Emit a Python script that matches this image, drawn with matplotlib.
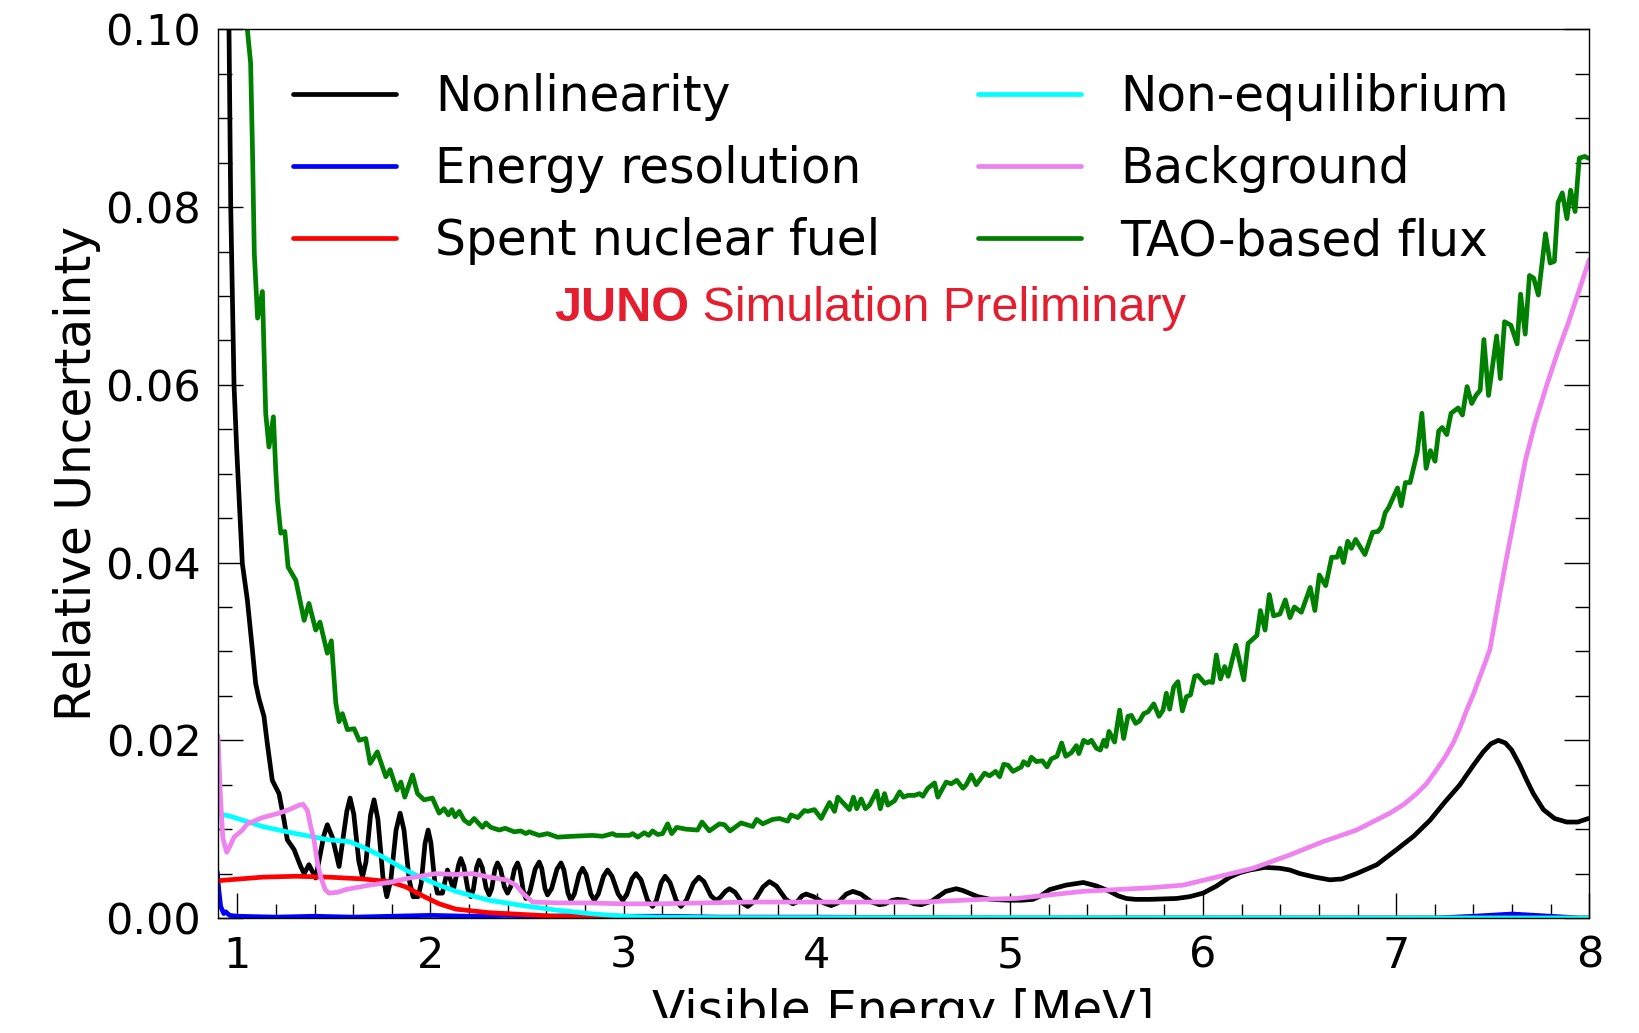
import matplotlib
matplotlib.use("Agg")
import matplotlib.pyplot as plt
from matplotlib.patches import Rectangle
from matplotlib.ticker import MultipleLocator, FormatStrFormatter

# ---- series: (visible energy [MeV], relative uncertainty) ----
nonlinearity = [
    (0.950, 0.1080), (0.957, 0.1000), (0.966, 0.0800), (0.983, 0.0600), (0.997, 0.0527),
    (1.014, 0.0452), (1.026, 0.0399), (1.052, 0.0358), (1.078, 0.0302), (1.095, 0.0264),
    (1.112, 0.0247), (1.138, 0.0227), (1.155, 0.0197), (1.181, 0.0155), (1.216, 0.0140),
    (1.242, 0.0110), (1.259, 0.0088), (1.294, 0.0077), (1.328, 0.0058), (1.346, 0.0050),
    (1.371, 0.0060), (1.406, 0.0045), (1.448, 0.0093), (1.466, 0.0105), (1.492, 0.0091),
    (1.527, 0.0058), (1.567, 0.0120), (1.584, 0.0135), (1.603, 0.0117), (1.629, 0.0064),
    (1.648, 0.0046), (1.666, 0.0063), (1.690, 0.0116), (1.708, 0.0133), (1.728, 0.0111),
    (1.754, 0.0046), (1.774, 0.0024), (1.795, 0.0043), (1.822, 0.0099), (1.843, 0.0118),
    (1.863, 0.0099), (1.890, 0.0043), (1.910, 0.0024), (1.936, 0.0024), (1.952, 0.0039),
    (1.972, 0.0084), (1.988, 0.0099), (2.002, 0.0085), (2.022, 0.0042), (2.036, 0.0028),
    (2.062, 0.0028), (2.088, 0.0054), (2.119, 0.0032), (2.146, 0.0060), (2.157, 0.0067),
    (2.173, 0.0058), (2.193, 0.0033), (2.209, 0.0024), (2.222, 0.0032), (2.239, 0.0057),
    (2.252, 0.0065), (2.268, 0.0057), (2.288, 0.0034), (2.304, 0.0026), (2.317, 0.0033),
    (2.334, 0.0055), (2.347, 0.0062), (2.363, 0.0055), (2.383, 0.0035), (2.399, 0.0028),
    (2.415, 0.0035), (2.435, 0.0055), (2.451, 0.0062), (2.464, 0.0054), (2.481, 0.0030),
    (2.494, 0.0022), (2.515, 0.0030), (2.542, 0.0055), (2.563, 0.0063), (2.576, 0.0056),
    (2.593, 0.0033), (2.606, 0.0026), (2.627, 0.0033), (2.655, 0.0055), (2.676, 0.0062),
    (2.691, 0.0054), (2.712, 0.0028), (2.727, 0.0020), (2.745, 0.0027), (2.770, 0.0049),
    (2.788, 0.0056), (2.806, 0.0049), (2.830, 0.0027), (2.848, 0.0020), (2.869, 0.0027),
    (2.896, 0.0047), (2.917, 0.0054), (2.940, 0.0047), (2.972, 0.0027), (2.995, 0.0020),
    (3.016, 0.0026), (3.043, 0.0044), (3.064, 0.0050), (3.090, 0.0043), (3.124, 0.0020),
    (3.150, 0.0013), (3.170, 0.0020), (3.195, 0.0040), (3.215, 0.0047), (3.240, 0.0040),
    (3.272, 0.0020), (3.297, 0.0013), (3.325, 0.0020), (3.361, 0.0039), (3.389, 0.0046),
    (3.416, 0.0041), (3.452, 0.0025), (3.479, 0.0020), (3.500, 0.0023), (3.527, 0.0030),
    (3.548, 0.0033), (3.577, 0.0029), (3.614, 0.0017), (3.643, 0.0013), (3.677, 0.0019),
    (3.722, 0.0035), (3.755, 0.0041), (3.791, 0.0036), (3.840, 0.0021), (3.876, 0.0016),
    (3.897, 0.0018), (3.924, 0.0025), (3.945, 0.0027), (3.984, 0.0024), (4.036, 0.0017),
    (4.075, 0.0014), (4.109, 0.0017), (4.153, 0.0027), (4.187, 0.0030), (4.228, 0.0027),
    (4.284, 0.0018), (4.325, 0.0015), (4.354, 0.0016), (4.391, 0.0020), (4.420, 0.0021),
    (4.456, 0.0020), (4.505, 0.0016), (4.541, 0.0015), (4.595, 0.0019), (4.668, 0.0030),
    (4.722, 0.0033), (4.756, 0.0031), (4.834, 0.0024), (4.900, 0.0021), (4.998, 0.0020),
    (5.060, 0.0020), (5.119, 0.0021), (5.160, 0.0025), (5.206, 0.0032), (5.290, 0.0037),
    (5.380, 0.0040), (5.450, 0.0036), (5.517, 0.0030), (5.560, 0.0025), (5.603, 0.0022),
    (5.650, 0.0021), (5.724, 0.0021), (5.862, 0.0022), (5.930, 0.0024), (6.000, 0.0028),
    (6.070, 0.0036), (6.138, 0.0046), (6.190, 0.0051), (6.242, 0.0054), (6.320, 0.0057),
    (6.397, 0.0056), (6.450, 0.0054), (6.501, 0.0050), (6.580, 0.0046), (6.656, 0.0043),
    (6.720, 0.0044), (6.795, 0.0050), (6.900, 0.0060), (7.002, 0.0077), (7.090, 0.0092),
    (7.175, 0.0110), (7.250, 0.0130), (7.330, 0.0150), (7.400, 0.0172), (7.451, 0.0187),
    (7.490, 0.0196), (7.529, 0.0200), (7.565, 0.0197), (7.598, 0.0189), (7.640, 0.0172),
    (7.676, 0.0155), (7.710, 0.0140), (7.762, 0.0122), (7.820, 0.0112), (7.883, 0.0108),
    (7.940, 0.0108), (7.995, 0.0112),
]

energy_resolution = [
    (0.896, 0.0052), (0.905, 0.0030), (0.914, 0.0013), (0.930, 0.0005), (0.940, 0.0007),
    (0.960, 0.0003), (1.000, 0.0002), (1.200, 0.0001), (1.400, 0.0002), (1.600, 0.0001),
    (1.800, 0.0002), (2.000, 0.0003), (2.200, 0.0002), (2.400, 0.0003), (2.600, 0.0002),
    (2.800, 0.0003), (3.000, 0.0002), (3.200, 0.0002), (3.500, 0.0001), (4.000, 0.0001),
    (5.000, 0.0000), (7.200, 0.0000), (7.400, 0.0002), (7.600, 0.00045), (7.800, 0.0002),
    (7.950, 0.0000), (8.000, 0.0000),
]

spent_fuel = [
    (0.900, 0.0042), (0.957, 0.0043), (1.130, 0.0046), (1.302, 0.0047), (1.475, 0.0046),
    (1.648, 0.0044), (1.786, 0.0041), (1.873, 0.0035), (1.959, 0.0025), (2.045, 0.0016),
    (2.132, 0.0010), (2.218, 0.0008), (2.304, 0.0006), (2.477, 0.0004), (2.650, 0.0002),
    (2.910, 0.0001), (3.200, 0.0000), (8.000, 0.0000),
]

non_equilibrium = [
    (0.900, 0.0117), (0.957, 0.0115), (1.130, 0.0103), (1.302, 0.0095), (1.475, 0.0088),
    (1.579, 0.0086), (1.648, 0.0080), (1.734, 0.0071), (1.800, 0.0063), (1.880, 0.0053),
    (1.959, 0.0045), (2.045, 0.0037), (2.132, 0.0030), (2.304, 0.0020), (2.477, 0.0014),
    (2.650, 0.0009), (2.822, 0.0005), (2.995, 0.0002), (3.170, 0.0001), (3.500, 0.00005),
    (8.000, 0.0000),
]

background = [
    (0.900, 0.0205), (0.912, 0.0140), (0.925, 0.0090), (0.945, 0.0074), (0.960, 0.0080),
    (0.983, 0.0091), (1.026, 0.0099), (1.052, 0.0106), (1.130, 0.0113), (1.216, 0.0118),
    (1.268, 0.0122), (1.320, 0.0127), (1.340, 0.0128), (1.363, 0.0121), (1.380, 0.0103),
    (1.397, 0.0088), (1.415, 0.0062), (1.432, 0.0046), (1.455, 0.0032), (1.475, 0.0028),
    (1.520, 0.0029), (1.562, 0.0032), (1.682, 0.0037), (1.786, 0.0040), (1.890, 0.0045),
    (2.028, 0.0050), (2.132, 0.0049), (2.218, 0.0050), (2.304, 0.0046), (2.391, 0.0043),
    (2.443, 0.0037), (2.477, 0.0028), (2.529, 0.0018), (2.650, 0.0017), (2.822, 0.0017),
    (2.995, 0.0016), (3.170, 0.0016), (3.651, 0.0018), (3.997, 0.0018), (4.342, 0.0018),
    (4.550, 0.0018), (4.860, 0.0021), (5.033, 0.0022), (5.206, 0.0026), (5.378, 0.0030),
    (5.551, 0.0032), (5.724, 0.0034), (5.896, 0.0037), (6.069, 0.0046), (6.259, 0.0056),
    (6.449, 0.0071), (6.622, 0.0086), (6.795, 0.0099), (6.967, 0.0118), (7.040, 0.0128),
    (7.106, 0.0140), (7.160, 0.0152), (7.209, 0.0167), (7.250, 0.0180), (7.295, 0.0197),
    (7.330, 0.0214), (7.365, 0.0234), (7.400, 0.0252), (7.434, 0.0272), (7.460, 0.0287),
    (7.485, 0.0302), (7.520, 0.0345), (7.565, 0.0398), (7.620, 0.0460), (7.670, 0.0516),
    (7.720, 0.0558), (7.780, 0.0600), (7.835, 0.0636), (7.890, 0.0669), (7.945, 0.0705),
    (8.000, 0.0741),
]

tao_flux = [
    (1.045, 0.1060), (1.052, 0.1000), (1.069, 0.0962), (1.079, 0.0860), (1.088, 0.0748),
    (1.105, 0.0675), (1.130, 0.0705), (1.147, 0.0568), (1.164, 0.0530), (1.187, 0.0564),
    (1.199, 0.0504), (1.208, 0.0470), (1.225, 0.0433), (1.246, 0.0435), (1.263, 0.0395),
    (1.303, 0.0380), (1.346, 0.0335), (1.371, 0.0354), (1.406, 0.0324), (1.428, 0.0333),
    (1.466, 0.0298), (1.487, 0.0312), (1.510, 0.0242), (1.527, 0.0221), (1.544, 0.0230),
    (1.570, 0.0212), (1.605, 0.0213), (1.631, 0.0200), (1.665, 0.0202), (1.688, 0.0174),
    (1.725, 0.0187), (1.769, 0.0159), (1.791, 0.0167), (1.826, 0.0144), (1.847, 0.0153),
    (1.867, 0.0136), (1.907, 0.0161), (1.933, 0.0140), (1.967, 0.0133), (2.010, 0.0135),
    (2.045, 0.0118), (2.071, 0.0123), (2.093, 0.0116), (2.111, 0.0122), (2.128, 0.0114),
    (2.149, 0.0120), (2.175, 0.0110), (2.201, 0.0106), (2.226, 0.0112), (2.269, 0.0102),
    (2.287, 0.0107), (2.313, 0.0102), (2.356, 0.0099), (2.387, 0.0101), (2.434, 0.0097),
    (2.468, 0.0098), (2.494, 0.0095), (2.511, 0.0097), (2.563, 0.0093), (2.606, 0.0095),
    (2.658, 0.0091), (2.736, 0.0092), (2.839, 0.0093), (2.891, 0.0092), (2.943, 0.0095),
    (2.961, 0.0093), (3.030, 0.0093), (3.047, 0.0095), (3.073, 0.0091), (3.107, 0.0096),
    (3.130, 0.0093), (3.150, 0.0098), (3.176, 0.0094), (3.202, 0.0095), (3.228, 0.0106),
    (3.249, 0.0095), (3.275, 0.0102), (3.323, 0.0100), (3.383, 0.0099), (3.406, 0.0108),
    (3.444, 0.0098), (3.496, 0.0106), (3.522, 0.0105), (3.551, 0.0098), (3.608, 0.0107),
    (3.668, 0.0103), (3.689, 0.0111), (3.720, 0.0106), (3.772, 0.0111), (3.807, 0.0112),
    (3.850, 0.0109), (3.867, 0.0116), (3.902, 0.0113), (3.936, 0.0121), (3.953, 0.0120),
    (3.988, 0.0122), (4.023, 0.0112), (4.066, 0.0130), (4.092, 0.0120), (4.109, 0.0136),
    (4.169, 0.0122), (4.190, 0.0136), (4.207, 0.0123), (4.230, 0.0134), (4.252, 0.0123),
    (4.273, 0.0127), (4.311, 0.0143), (4.329, 0.0123), (4.351, 0.0140), (4.368, 0.0127),
    (4.403, 0.0132), (4.429, 0.0142), (4.449, 0.0136), (4.472, 0.0138), (4.506, 0.0138),
    (4.532, 0.0140), (4.549, 0.0137), (4.575, 0.0146), (4.610, 0.0152), (4.627, 0.0136),
    (4.670, 0.0153), (4.696, 0.0151), (4.725, 0.0155), (4.757, 0.0146), (4.774, 0.0150),
    (4.800, 0.0161), (4.826, 0.0150), (4.869, 0.0163), (4.895, 0.0160), (4.926, 0.0165),
    (4.947, 0.0159), (4.968, 0.0173), (4.990, 0.0172), (5.016, 0.0165), (5.059, 0.0170),
    (5.071, 0.0176), (5.094, 0.0172), (5.111, 0.0181), (5.137, 0.0176), (5.168, 0.0177),
    (5.192, 0.0170), (5.214, 0.0179), (5.244, 0.0182), (5.268, 0.0197), (5.289, 0.0182),
    (5.318, 0.0186), (5.344, 0.0194), (5.357, 0.0185), (5.382, 0.0200), (5.404, 0.0197),
    (5.422, 0.0200), (5.448, 0.0191), (5.468, 0.0189), (5.486, 0.0200), (5.499, 0.0193),
    (5.513, 0.0210), (5.542, 0.0198), (5.568, 0.0234), (5.589, 0.0202), (5.611, 0.0227),
    (5.629, 0.0228), (5.651, 0.0219), (5.672, 0.0222), (5.693, 0.0230), (5.715, 0.0232),
    (5.745, 0.0241), (5.772, 0.0227), (5.793, 0.0234), (5.810, 0.0253), (5.827, 0.0235),
    (5.848, 0.0260), (5.870, 0.0266), (5.893, 0.0233), (5.914, 0.0249), (5.935, 0.0251),
    (5.957, 0.0272), (5.974, 0.0273), (6.009, 0.0264), (6.031, 0.0266), (6.049, 0.0265),
    (6.069, 0.0296), (6.090, 0.0269), (6.112, 0.0283), (6.130, 0.0272), (6.170, 0.0307),
    (6.211, 0.0268), (6.233, 0.0309), (6.279, 0.0318), (6.297, 0.0346), (6.321, 0.0324),
    (6.343, 0.0364), (6.365, 0.0340), (6.398, 0.0342), (6.426, 0.0358), (6.450, 0.0338),
    (6.473, 0.0350), (6.509, 0.0344), (6.555, 0.0372), (6.579, 0.0346), (6.602, 0.0386),
    (6.635, 0.0374), (6.666, 0.0406), (6.694, 0.0406), (6.709, 0.0416), (6.727, 0.0400),
    (6.749, 0.0424), (6.768, 0.0416), (6.790, 0.0426), (6.838, 0.0409), (6.878, 0.0434),
    (6.906, 0.0435), (6.924, 0.0440), (6.943, 0.0456), (6.961, 0.0462), (7.007, 0.0484),
    (7.026, 0.0464), (7.048, 0.0490), (7.072, 0.0490), (7.109, 0.0524), (7.133, 0.0568),
    (7.155, 0.0506), (7.177, 0.0526), (7.201, 0.0514), (7.220, 0.0548), (7.238, 0.0552),
    (7.262, 0.0544), (7.284, 0.0568), (7.321, 0.0574), (7.343, 0.0566), (7.367, 0.0598),
    (7.391, 0.0579), (7.413, 0.0588), (7.435, 0.0594), (7.454, 0.0651), (7.478, 0.0588),
    (7.520, 0.0655), (7.539, 0.0607), (7.561, 0.0671), (7.594, 0.0667), (7.626, 0.0646),
    (7.644, 0.0702), (7.668, 0.0657), (7.690, 0.0723), (7.712, 0.0720), (7.736, 0.0701),
    (7.773, 0.0770), (7.797, 0.0737), (7.819, 0.0739), (7.838, 0.0805), (7.860, 0.0816),
    (7.884, 0.0787), (7.903, 0.0819), (7.926, 0.0795), (7.948, 0.0855), (7.976, 0.0857),
    (7.994, 0.0855),
]

series = [
    ("Nonlinearity", nonlinearity, "black"),
    ("Energy resolution", energy_resolution, "blue"),
    ("Spent nuclear fuel", spent_fuel, "red"),
    ("Non-equilibrium", non_equilibrium, "cyan"),
    ("Background", background, "violet"),
    ("TAO-based flux", tao_flux, "green"),
]

x_ticks = [1, 2, 3, 4, 5, 6, 7, 8]
y_ticks = [0.00, 0.02, 0.04, 0.06, 0.08, 0.10]

plt.rcParams["font.family"] = ["DejaVu Sans"]

fig = plt.figure(figsize=(16.39, 10.33), dpi=100)
ax = fig.add_axes([0.1330, 0.1113, 0.8367, 0.8603])

for label, pts, color in series:
    e = [p[0] for p in pts]
    u = [p[1] for p in pts]
    ax.plot(e, u, color=color, lw=3.4, label=label,
            solid_joinstyle="round", solid_capstyle="round")

ax.set_xlim(0.9, 8.0)
ax.set_ylim(0.0, 0.10)
ax.set_xticks(x_ticks)
ax.set_yticks(y_ticks)
ax.xaxis.set_minor_locator(MultipleLocator(0.2))
ax.yaxis.set_minor_locator(MultipleLocator(0.005))
ax.yaxis.set_major_formatter(FormatStrFormatter("%.2f"))

ax.tick_params(which="both", direction="in", top=False, right=True,
               width=1.0, labelsize=31)
ax.tick_params(which="major", length=18, pad=12)
ax.tick_params(which="minor", length=10)
for sp in ax.spines.values():
    sp.set_linewidth(1.0)

ax.set_xlabel("Visible Energy [MeV]", fontsize=35, labelpad=8)
ax.set_ylabel("Relative Uncertainty", fontsize=35)
ax.yaxis.set_label_coords(-0.085, 0.5)

ax.legend(loc="upper left", bbox_to_anchor=(0.0547, 0.951), ncol=2,
          frameon=False, fontsize=35, handlelength=2.12, handletextpad=0.8,
          columnspacing=2.02, labelspacing=0.5, borderpad=0.0,
          borderaxespad=0.0)

juno = ax.text(0.245, 0.672, "JUNO", transform=ax.transAxes, color="#e41e2f",
               fontsize=35, fontweight="bold", family="Liberation Sans",
               ha="left", va="baseline")
ax.annotate(" Simulation Preliminary", xy=(1, 0), xycoords=juno,
            color="#e41e2f", fontsize=35, family="Liberation Sans",
            ha="left", va="bottom")

# the figure's lower margin is blank and cuts through the axis title
fig.add_artist(Rectangle((0, 0), 1, 15 / 1033, transform=fig.transFigure,
                         facecolor="white", edgecolor="none", zorder=10))

fig.savefig("out.png", dpi=100)
